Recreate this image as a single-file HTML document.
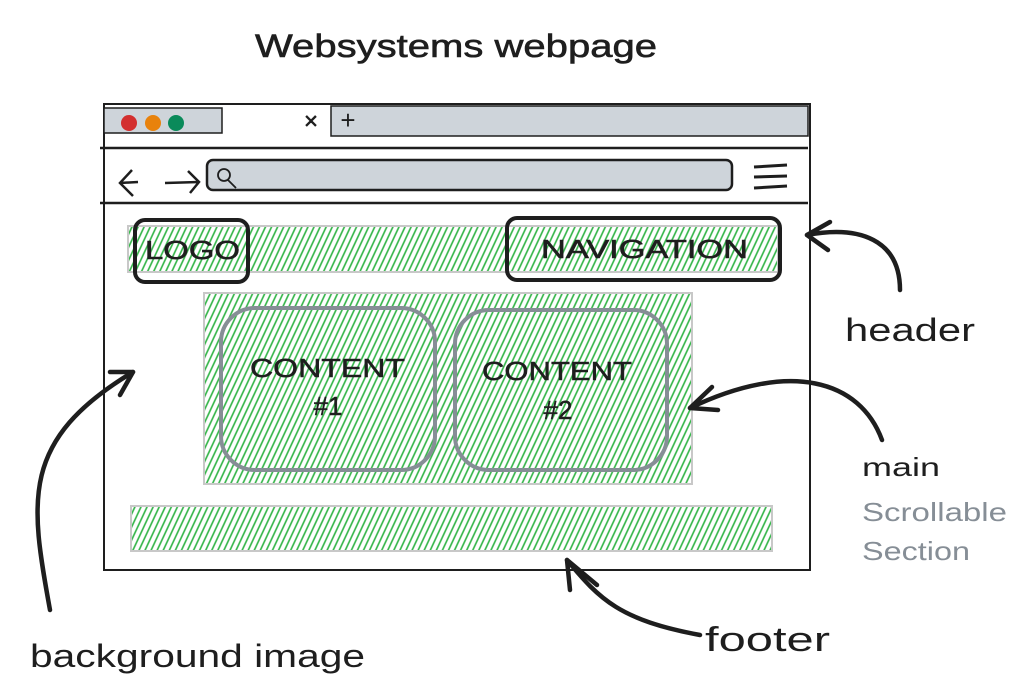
<!DOCTYPE html>
<html><head><meta charset="utf-8"><style>
html,body{margin:0;padding:0;background:#fff;width:1028px;height:700px;overflow:hidden}
text{font-family:"Liberation Sans","DejaVu Sans",sans-serif}
</style></head><body>
<svg width="1028" height="700" viewBox="0 0 1028 700" xmlns="http://www.w3.org/2000/svg">
<defs>
<pattern id="h" width="5.5" height="5.5" patternUnits="userSpaceOnUse" patternTransform="rotate(25)">
<rect width="5.5" height="5.5" fill="#fff"/>
<line x1="1" y1="0" x2="1" y2="5.5" stroke="#2fb344" stroke-width="1.6"/>
</pattern>
</defs>
<text x="255" y="57" font-size="32" fill="#1e1e1e" textLength="402" lengthAdjust="spacingAndGlyphs" stroke="#1e1e1e" stroke-width="0.6">Websystems webpage</text>
<rect x="104" y="104" width="706" height="466" fill="#fff" stroke="#1e1e1e" stroke-width="2"/>
<rect x="104" y="108" width="118" height="25" fill="#ced4da" stroke="#1e1e1e" stroke-width="1.5"/>
<circle cx="129" cy="123" r="8" fill="#d32f2f"/>
<circle cx="153" cy="123" r="8" fill="#e8820c"/>
<circle cx="176" cy="123" r="8" fill="#0a8a5a"/>
<text x="311" y="129" text-anchor="middle" font-size="24" fill="#1e1e1e" stroke="#1e1e1e" stroke-width="0.6">×</text>
<rect x="331" y="106" width="477" height="30" fill="#ced4da" stroke="#1e1e1e" stroke-width="1.5"/>
<text x="348" y="129" text-anchor="middle" font-size="26" fill="#1e1e1e">+</text>
<line x1="100" y1="148" x2="808" y2="148" stroke="#1e1e1e" stroke-width="2.5"/>
<line x1="100" y1="203" x2="808" y2="203" stroke="#1e1e1e" stroke-width="2.5"/>
<path d="M132 170 L120 183 L133 196 M120 183 L138 182" fill="none" stroke="#1e1e1e" stroke-width="2.5"/>
<path d="M165 183 L199 182 M188 171 L199 182 L190 193" fill="none" stroke="#1e1e1e" stroke-width="2.5"/>
<rect x="207" y="160" width="525" height="30" rx="6" fill="#ced4da" stroke="#1e1e1e" stroke-width="2.5"/>
<circle cx="224" cy="175" r="6" fill="none" stroke="#1e1e1e" stroke-width="1.8"/>
<line x1="228" y1="180" x2="236" y2="188" stroke="#1e1e1e" stroke-width="1.8"/>
<path d="M754 167 L787 165 M754 177 L787 176 M754 188 L787 186" stroke="#1e1e1e" stroke-width="3"/>
<rect x="128" y="226" width="650" height="46" fill="url(#h)" stroke="#c8c8c8" stroke-width="2"/>
<rect x="135" y="220" width="113" height="62" rx="10" fill="none" stroke="#1e1e1e" stroke-width="4"/>
<text x="145" y="259" font-size="26" fill="#1e1e1e" textLength="95" lengthAdjust="spacingAndGlyphs" stroke="#1e1e1e" stroke-width="0.6">LOGO</text>
<rect x="507" y="218" width="273" height="62" rx="10" fill="none" stroke="#1e1e1e" stroke-width="4"/>
<text x="541" y="258" font-size="26" fill="#1e1e1e" textLength="207" lengthAdjust="spacingAndGlyphs" stroke="#1e1e1e" stroke-width="0.6">NAVIGATION</text>
<rect x="204" y="293" width="488" height="191" fill="url(#h)" stroke="#c8c8c8" stroke-width="2"/>
<rect x="221" y="308" width="214" height="162" rx="34" fill="none" stroke="#868e96" stroke-width="4"/>
<rect x="455" y="310" width="212" height="160" rx="34" fill="none" stroke="#868e96" stroke-width="4"/>
<text x="250" y="377" font-size="26" fill="#1e1e1e" textLength="155" lengthAdjust="spacingAndGlyphs" stroke="#1e1e1e" stroke-width="0.5">CONTENT</text>
<text x="328" y="415" text-anchor="middle" font-size="26" fill="#1e1e1e" stroke="#1e1e1e" stroke-width="0.5">#1</text>
<text x="482" y="380" font-size="26" fill="#1e1e1e" textLength="150" lengthAdjust="spacingAndGlyphs" stroke="#1e1e1e" stroke-width="0.5">CONTENT</text>
<text x="558" y="419" text-anchor="middle" font-size="26" fill="#1e1e1e" stroke="#1e1e1e" stroke-width="0.5">#2</text>
<rect x="131" y="506" width="641" height="45" fill="url(#h)" stroke="#c8c8c8" stroke-width="2"/>
<text x="845" y="341" font-size="32" fill="#1e1e1e" textLength="130" lengthAdjust="spacingAndGlyphs">header</text>
<text x="862" y="476" font-size="26" fill="#1e1e1e" textLength="78" lengthAdjust="spacingAndGlyphs">main</text>
<text x="862" y="521" font-size="26" fill="#868e96" textLength="145" lengthAdjust="spacingAndGlyphs">Scrollable</text>
<text x="862" y="560" font-size="26" fill="#868e96" textLength="108" lengthAdjust="spacingAndGlyphs">Section</text>
<text x="705" y="651" font-size="34" fill="#1e1e1e" textLength="125" lengthAdjust="spacingAndGlyphs">footer</text>
<text x="30" y="667" font-size="32" fill="#1e1e1e" textLength="335" lengthAdjust="spacingAndGlyphs">background image</text>
<g fill="none" stroke="#1e1e1e" stroke-width="4.5" stroke-linecap="round" stroke-linejoin="round">
<path d="M900 290 C900 240 860 225 807 235"/>
<path d="M830 222 L807 235 L828 250"/>
<path d="M882 440 C860 380 790 360 690 408"/>
<path d="M712 387 L690 408 L718 410"/>
<path d="M50 610 C30 500 20 440 133 372"/>
<path d="M110 372 L133 372 L120 395"/>
<path d="M700 635 C620 620 600 600 567 560"/>
<path d="M570 590 L567 560 L597 585"/>
</g>
</svg>
</body></html>
